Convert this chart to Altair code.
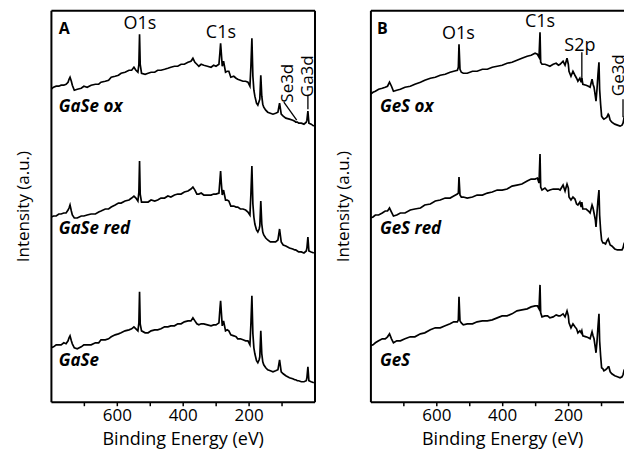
import altair as alt
import pandas as pd

# ---------------- data ----------------
# Panel A : GaSe survey spectra (binding energy in eV, intensity in a.u.)
gase_energy = [799, 792, 784, 776, 769, 761, 754, 748, 745, 742, 738, 735, 729, 720, 708, 700, 690, 678, 665, 655,
               648, 635, 625, 617, 605, 595, 587, 575, 563, 555, 548, 542, 536, 533, 531, 529, 525, 514, 505, 496,
               485, 476, 466, 455, 445, 436, 425, 415, 405, 395, 384, 375, 369, 363, 357, 351, 344, 336, 325, 314,
               306, 299, 290, 287, 285, 283, 280, 276, 270, 265, 260, 254, 245, 238, 233, 225, 217, 209, 202, 196,
               193, 190, 187, 184, 181, 176, 172, 168, 166, 163, 160, 157, 154, 148, 142, 134, 126, 118, 111, 106,
               101, 95, 87, 76, 66, 60, 57, 52, 48, 40, 32, 25, 23, 20, 17, 10, 2]
gase_ox = [43, 45, 46, 46, 47, 47, 48, 50, 53, 55, 51, 47, 42, 43, 44, 46, 45, 47, 48, 48,
           50, 51, 52, 55, 56, 57, 59, 60, 62, 62, 65, 62, 60, 68, 98, 68, 59, 58, 59, 60,
           60, 62, 62, 63, 64, 65, 66, 66, 68, 68, 70, 71, 74, 70, 68, 66, 68, 67, 66, 65,
           67, 66, 68, 80, 89, 80, 66, 71, 60, 61, 61, 55, 56, 54, 53, 52, 51, 51, 50, 46,
           66, 94, 56, 42, 36, 29, 27, 31, 33, 57, 36, 28, 25, 22, 20, 19, 18, 19, 20, 29,
           18, 16, 14, 13, 12, 11, 10, 10, 9, 9, 8, 10, 12, 21, 9, 8, 6]
gase_red = [44, 45, 45, 47, 47, 48, 48, 51, 53, 56, 50, 46, 43, 43, 45, 45, 46, 47, 47, 49,
            50, 52, 52, 54, 56, 58, 58, 60, 61, 63, 65, 63, 60, 69, 100, 67, 59, 59, 59, 61,
            60, 61, 63, 63, 65, 64, 66, 67, 67, 69, 70, 72, 74, 71, 67, 67, 68, 66, 66, 66,
            67, 67, 68, 81, 90, 79, 66, 71, 61, 61, 60, 55, 55, 54, 54, 52, 52, 51, 49, 46,
            67, 95, 57, 44, 37, 31, 29, 32, 35, 60, 37, 29, 26, 23, 21, 19, 19, 19, 21, 32,
            19, 16, 15, 13, 12, 11, 11, 10, 9, 9, 8, 10, 13, 24, 10, 9, 8]
gase_pristine = [43, 44, 46, 46, 46, 48, 47, 50, 53, 55, 50, 47, 43, 42, 44, 46, 46, 46, 48, 48,
                 51, 51, 52, 54, 56, 57, 58, 60, 61, 62, 64, 62, 60, 68, 99, 67, 60, 58, 58, 60,
                 61, 61, 62, 64, 64, 65, 65, 67, 67, 69, 70, 70, 73, 70, 67, 66, 67, 67, 66, 65,
                 66, 66, 68, 82, 90, 80, 65, 70, 60, 61, 60, 56, 55, 54, 52, 52, 51, 50, 50, 46,
                 67, 95, 57, 43, 37, 30, 28, 31, 34, 60, 37, 29, 26, 23, 21, 20, 19, 20, 21, 31,
                 19, 17, 15, 13, 12, 11, 11, 10, 10, 9, 9, 10, 13, 24, 10, 9, 8]
gase_samples = ["GaSe ox", "GaSe red", "GaSe"]
gase_stack_offsets = [270, 141, 11]

# Panel B : GeS survey spectra
ges_energy = [800, 792, 785, 775, 764, 755, 748, 742, 736, 730, 720, 709, 695, 679, 665, 648, 635, 618, 603, 588,
              573, 558, 547, 536, 533, 531, 528, 524, 518, 506, 490, 476, 460, 445, 430, 415, 400, 385, 370, 355,
              340, 324, 312, 300, 293, 288, 285, 283, 279, 270, 262, 255, 245, 236, 229, 224, 215, 209, 203, 199,
              197, 191, 185, 179, 174, 170, 164, 160, 158, 155, 145, 138, 133, 127, 124, 121, 117, 115, 112, 109,
              106, 104, 101, 98, 94, 91, 86, 82, 78, 76, 72, 67, 58, 50, 42, 36, 33, 30, 27, 22]
ges_ox = [38, 40, 41, 43, 44, 45, 46, 50, 46, 41, 42, 43, 45, 46, 48, 50, 52, 54, 55, 57,
          58, 60, 61, 62, 65, 88, 63, 60, 59, 59, 61, 61, 63, 63, 65, 66, 67, 69, 70, 72,
          74, 76, 77, 79, 78, 75, 100, 70, 68, 68, 67, 66, 68, 69, 67, 68, 71, 67, 74, 68,
          61, 56, 61, 57, 54, 51, 54, 50, 54, 48, 47, 46, 45, 53, 48, 45, 36, 31, 43, 58,
          70, 43, 28, 16, 14, 13, 14, 15, 18, 17, 12, 10, 8, 7, 6, 7, 9, 14, 12, 8]
ges_red = [39, 40, 42, 42, 44, 46, 46, 49, 45, 41, 42, 44, 44, 47, 48, 49, 52, 53, 56, 57,
           59, 59, 61, 63, 64, 80, 62, 60, 60, 59, 60, 62, 62, 64, 65, 67, 67, 68, 71, 72,
           73, 76, 78, 78, 79, 74, 103, 70, 67, 69, 66, 67, 68, 68, 68, 67, 72, 66, 73, 69,
           60, 57, 60, 58, 53, 52, 55, 50, 55, 48, 48, 46, 44, 52, 49, 44, 37, 30, 44, 57,
           67, 42, 27, 17, 14, 14, 13, 16, 18, 16, 12, 11, 8, 7, 7, 7, 9, 13, 12, 8]
ges_pristine = [38, 39, 41, 43, 45, 45, 47, 50, 45, 41, 43, 43, 45, 47, 47, 50, 51, 54, 56, 56,
                58, 60, 62, 62, 64, 87, 63, 61, 59, 60, 60, 62, 63, 63, 64, 66, 68, 68, 70, 73,
                74, 75, 77, 78, 78, 75, 99, 71, 67, 68, 68, 66, 67, 69, 68, 68, 70, 67, 73, 68,
                61, 56, 60, 57, 55, 51, 53, 51, 53, 48, 47, 46, 45, 52, 48, 45, 36, 31, 42, 57,
                70, 43, 28, 16, 15, 13, 14, 15, 17, 17, 12, 10, 8, 7, 6, 7, 9, 13, 12, 8]
ges_samples = ["GeS ox", "GeS red", "GeS"]
ges_stack_offsets = [270, 145, 18]

# tick values / labels
tick_values = [700, 600, 500, 400, 300, 200, 100]

# annotations (energy, intensity in plot units)
a_peak_labels = ["O1s", "C1s"]
a_peak_energy = [530, 284]
a_peak_int = [378, 369]
a_rot_labels = ["Se3d", "Ga3d"]
a_rot_energy = [81, 20]
a_rot_int = [319, 326]
a_line_e = [93, 20]
a_line_e2 = [54, 20]
a_line_i = [300, 307]
a_line_i2 = [282, 293]
a_sample_energy = [776, 776, 776]
a_sample_int = [295, 173, 41]

b_peak_labels = ["O1s", "C1s", "S2p"]
b_peak_energy = [533, 285, 164]
b_peak_int = [368, 380, 356]
b_rot_labels = ["Ge3d"]
b_rot_energy = [45]
b_rot_int = [327]
b_line_e = [158, 33]
b_line_e2 = [158, 33]
b_line_i = [350, 303]
b_line_i2 = [320, 285]
b_sample_energy = [771, 771, 771]
b_sample_int = [295, 173, 41]

FONT = "Open Sans"


def spectra_frame(energy, series, names, offsets):
    rows = []
    for name, vals, off in zip(names, series, offsets):
        assert len(vals) == len(energy), name
        for e, v in zip(energy, vals):
            rows.append({"sample": name, "energy": e, "intensity": v + off})
    return pd.DataFrame(rows)


def panel(df, low, width, title_x, peaks, rots, lines, samples, letter, letter_e, right_axis):
    xs = alt.Scale(domain=[800, low])
    ys = alt.Scale(domain=[0, 392])
    x_main = alt.X("energy:Q", scale=xs, title="Binding Energy (eV)",
                   axis=alt.Axis(orient="bottom", values=tick_values, grid=False,
                                 labelExpr="datum.value % 200 == 0 ? datum.label : ''",
                                 labelPadding=2, titlePadding=7, titleX=title_x))
    y_main = alt.Y("intensity:Q", scale=ys, title="Intensity (a.u.)",
                   axis=alt.Axis(orient="left", labels=False, ticks=False, grid=False,
                                 titlePadding=18))
    x_none = alt.X("energy:Q", scale=xs, axis=None)
    y_none = alt.Y("intensity:Q", scale=ys, axis=None)

    spec = alt.Chart(df).mark_line(color="black", strokeWidth=1.7, clip=True).encode(
        x=x_main, y=y_main, detail="sample:N")

    top_x = alt.X("energy:Q", scale=xs, title=None,
                  axis=alt.Axis(orient="top", labels=False, ticks=False, grid=False))
    if right_axis:
        side_y = alt.Y("intensity:Q", scale=ys, title=None,
                       axis=alt.Axis(orient="right", labels=False, ticks=False, grid=False))
    else:
        side_y = y_none
    sample_df = pd.DataFrame(samples)
    sample_txt = alt.Chart(sample_df).mark_text(
        align="left", baseline="middle", font=FONT, fontSize=17, fontWeight="bold",
        fontStyle="italic", color="black").encode(x=top_x, y=side_y, text="label:N")

    peak_txt = alt.Chart(pd.DataFrame(peaks)).mark_text(
        align="center", baseline="middle", font=FONT, fontSize=18, color="black").encode(
        x=x_none, y=y_none, text="label:N")
    rot_txt = alt.Chart(pd.DataFrame(rots)).mark_text(
        align="center", baseline="middle", font=FONT, fontSize=17, color="black",
        angle=270, clip=True).encode(x=x_none, y=y_none, text="label:N")
    rule = alt.Chart(pd.DataFrame(lines)).mark_rule(color="black", strokeWidth=1.3).encode(
        x=x_none, x2="energy2:Q", y=y_none, y2="intensity2:Q")
    let = alt.Chart(pd.DataFrame({"label": [letter], "energy": [letter_e], "intensity": [373]})).mark_text(
        align="left", baseline="middle", font=FONT, fontSize=16, fontWeight="bold", color="black").encode(
        x=x_none, y=y_none, text="label:N")

    return alt.layer(spec, sample_txt, peak_txt, rot_txt, rule, let).resolve_axis(
        x="independent", y="independent").properties(width=width, height=392)


df_a = spectra_frame(gase_energy, [gase_ox, gase_red, gase_pristine], gase_samples, gase_stack_offsets)
df_b = spectra_frame(ges_energy, [ges_ox, ges_red, ges_pristine], ges_samples, ges_stack_offsets)

panel_a = panel(
    df_a, 0, 264, 132,
    {"label": a_peak_labels, "energy": a_peak_energy, "intensity": a_peak_int},
    {"label": a_rot_labels, "energy": a_rot_energy, "intensity": a_rot_int},
    {"energy": a_line_e, "energy2": a_line_e2, "intensity": a_line_i, "intensity2": a_line_i2},
    {"label": gase_samples, "energy": a_sample_energy, "intensity": a_sample_int},
    "A", 776, True)

panel_b = panel(
    df_b, 30, 254, 132,
    {"label": b_peak_labels, "energy": b_peak_energy, "intensity": b_peak_int},
    {"label": b_rot_labels, "energy": b_rot_energy, "intensity": b_rot_int},
    {"energy": b_line_e, "energy2": b_line_e2, "intensity": b_line_i, "intensity2": b_line_i2},
    {"label": ges_samples, "energy": b_sample_energy, "intensity": b_sample_int},
    "B", 780, False)

chart = alt.hconcat(panel_a, panel_b, spacing=20).properties(
    padding={"left": 15, "top": 10, "right": 0, "bottom": 0},
    background="white",
).configure_view(stroke=None).configure_axis(
    domainColor="black", domainWidth=2, tickColor="black", tickWidth=1.5, tickSize=4,
    labelFont=FONT, labelFontSize=17, labelColor="black",
    titleFont=FONT, titleFontSize=18, titleFontWeight="normal", titleColor="black",
).configure_axisLeft(titleFontSize=17)

chart.save("out.html", embed_options={"renderer": "svg", "actions": False})
